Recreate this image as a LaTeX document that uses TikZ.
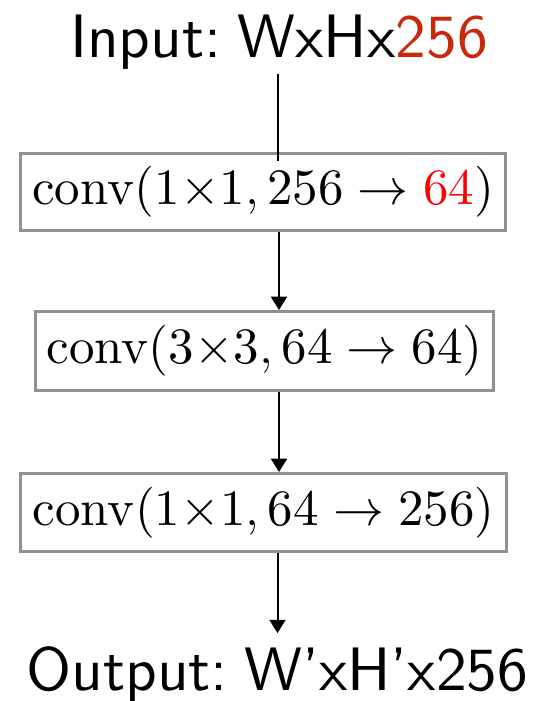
\RequirePackage{fix-cm}
\documentclass[tikz,border=0pt]{standalone}
\usetikzlibrary{arrows.meta}
\DeclareFontFamily{OT1}{xcmss}{}
\DeclareFontShape{OT1}{xcmss}{m}{n}{<->cmss10}{}
\DeclareFontFamily{OT1}{xcmr}{}
\DeclareFontShape{OT1}{xcmr}{m}{n}{<->cmr10}{}
\DeclareSymbolFont{operators}{OT1}{xcmr}{m}{n}
\newcommand{\iofont}{\fontencoding{OT1}\fontfamily{xcmss}\fontseries{m}\fontshape{n}\fontsize{46}{56}\selectfont}
\definecolor{inred}{RGB}{200,40,12}
\definecolor{boxgray}{RGB}{145,145,145}
\begin{document}
\begin{tikzpicture}[x=0.75pt,y=-0.75pt,
  convbox/.style={draw=boxgray,line width=2.25pt,fill=white,inner sep=0pt,
    font=\fontsize{38.2}{46}\selectfont},
  iolabel/.style={font=\iofont,anchor=base},
  conn/.style={line width=1.5pt,black},
  arr/.style={conn,-{Triangle[width=12pt,length=10pt]}}]
\useasboundingbox (0,0) rectangle (549,701);

\node[iolabel,inner sep=3.5pt] (in) at (279,57) {Input:\hspace{0.27em}WxHx\textcolor{inred}{256}};

\node[convbox,minimum width=363.75pt,minimum height=57.75pt] (b1) at (263,192)
  {$\mathrm{conv}(1{\times}1, 256 \rightarrow \textcolor{red}{64})$};
\node[convbox,minimum width=343.5pt,minimum height=59.25pt] (b2) at (264.5,351)
  {$\mathrm{conv}(3{\times}3, 64 \rightarrow 64)$};
\node[convbox,minimum width=364.5pt,minimum height=58.5pt] (b3) at (263.5,512.5)
  {$\mathrm{conv}(1{\times}1, 64 \rightarrow 256)$};

\node[iolabel,inner sep=10.5pt] (out) at (277.5,690) {Output:\hspace{0.27em}W'xH'x256};

\draw[conn] (in.south -| 278,0) -- ([yshift=-7.1pt]b1.north -| 278,0);
\draw[arr] (b1.south -| in.south) -- (b2.north -| in.south);
\draw[arr] (b2.south -| in.south) -- (b3.north -| in.south);
\draw[arr] (b3.south -| out.north) -- (out.north);
\end{tikzpicture}
\end{document}
